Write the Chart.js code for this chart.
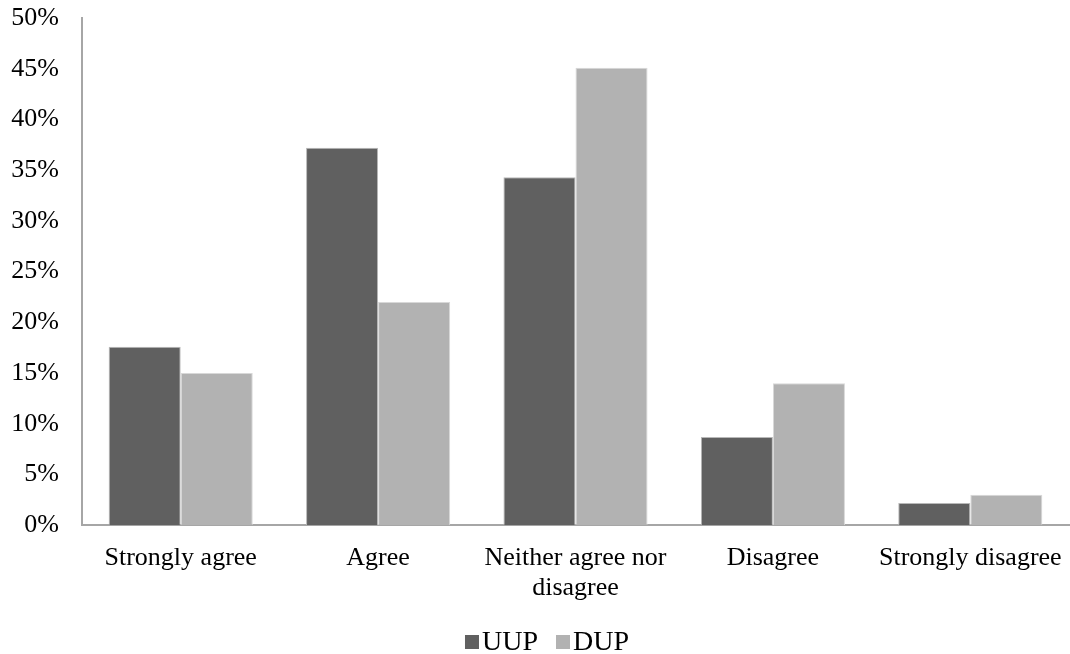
<!DOCTYPE html>
<html>
<head>
<meta charset="utf-8">
<script src="https://cdn.jsdelivr.net/npm/chart.js@4/dist/chart.umd.min.js"></script>
<style>
  html, body { margin: 0; padding: 0; background: #fff; }
  #wrap { width: 1070px; height: 654px; position: relative; }
</style>
</head>
<body>
<div id="wrap"><canvas id="chart"></canvas></div>
<script>
// Data
const categories = ['Strongly agree', 'Agree', ['Neither agree nor', 'disagree'], 'Disagree', 'Strongly disagree'];
const uupValues = [17.6, 37.2, 34.3, 8.7, 2.2];
const dupValues = [15.0, 22.0, 45.1, 14.0, 3.0];
const yTicks = [0, 5, 10, 15, 20, 25, 30, 35, 40, 45, 50];

const serif = "'Liberation Serif', 'Times New Roman', serif";

// Legend drawn by hand so the box-to-text gap matches the original (tight, Excel style)
const bottomLegend = {
    id: 'bottomLegend',
    afterDraw(chart) {
        const c = chart.ctx;
        const box = 14, gap = 3, between = 18;
        c.save();
        c.font = '28px ' + serif;
        c.textBaseline = 'middle';
        const items = chart.data.datasets.map(ds => ({
            label: ds.label,
            color: ds.backgroundColor,
            w: c.measureText(ds.label).width
        }));
        let total = items.reduce((s, it) => s + box + gap + it.w, 0) + between * (items.length - 1);
        let x = chart.width / 2 + 12 - total / 2;
        const y = 642;
        items.forEach(it => {
            c.fillStyle = it.color;
            c.fillRect(x, y - box / 2, box, box);
            c.fillStyle = '#000';
            c.fillText(it.label, x + box + gap, y + 1);
            x += box + gap + it.w + between;
        });
        c.restore();
    }
};

const ctx = document.getElementById('chart').getContext('2d');
new Chart(ctx, {
    type: 'bar',
    data: {
        labels: categories,
        datasets: [
            {
                label: 'UUP',
                data: uupValues,
                backgroundColor: '#606060',
                borderColor: '#b8b8b8',
                borderWidth: 1
            },
            {
                label: 'DUP',
                data: dupValues,
                backgroundColor: '#b2b2b2',
                borderColor: '#d8d8d8',
                borderWidth: 1
            }
        ]
    },
    options: {
        responsive: true,
        maintainAspectRatio: false,
        animation: false,
        layout: { padding: { top: 18, right: 1, left: 0, bottom: 33 } },
        datasets: {
            bar: { barPercentage: 1, categoryPercentage: 0.73 }
        },
        scales: {
            x: {
                afterFit: axis => {
                    axis.paddingLeft = 0;
                    axis.paddingRight = 0;
                },
                grid: { display: false, drawTicks: false },
                border: { color: '#a6a6a6', width: 2 },
                ticks: {
                    color: '#000',
                    font: { family: serif, size: 26, lineHeight: 1.15 },
                    padding: 18,
                    maxRotation: 0,
                    autoSkip: false
                }
            },
            y: {
                min: 0,
                max: 50,
                afterBuildTicks: axis => {
                    axis.ticks = yTicks.map(v => ({ value: v }));
                },
                afterFit: axis => {
                    axis.width = 82;
                    axis.paddingTop = 0;
                    axis.paddingBottom = 0;
                },
                grid: { display: false, drawTicks: false },
                border: { color: '#a6a6a6', width: 2 },
                ticks: {
                    color: '#000',
                    font: { family: serif, size: 26 },
                    padding: 23,
                    callback: v => v + '%'
                }
            }
        },
        plugins: {
            legend: { display: false },
            tooltip: { enabled: false }
        }
    },
    plugins: [bottomLegend]
});
</script>
</body>
</html>
